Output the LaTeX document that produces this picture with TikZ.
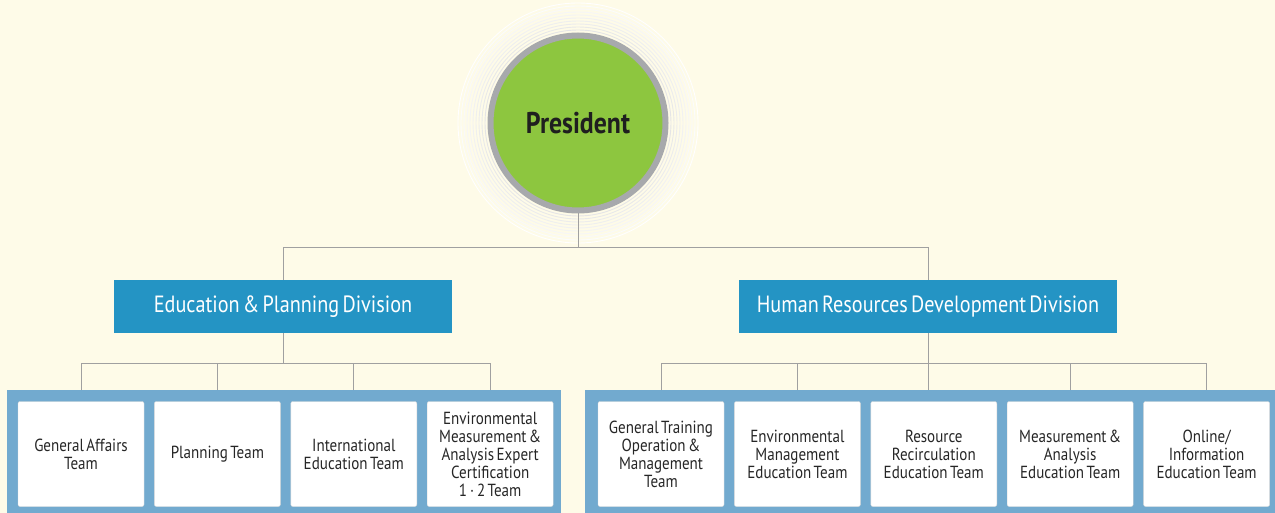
\documentclass[tikz,border=0pt]{standalone}
\usepackage{fontspec}
\setmainfont{PT Sans}[FakeStretch=0.86, WordSpace=0.6]
\usetikzlibrary{positioning}
\definecolor{cream}{HTML}{FEFBE8}
\definecolor{presgreen}{HTML}{8DC63F}
\definecolor{ringgray}{HTML}{A7A9AC}
\definecolor{divblue}{HTML}{2494C4}
\definecolor{panelblue}{HTML}{72AACF}
\definecolor{linegray}{HTML}{A0A0A0}

\begin{document}
\begin{tikzpicture}[x=1pt, y=-1pt,
      president/.style={circle, fill=presgreen, draw=ringgray, line width=6pt, minimum size=175pt, font=\bfseries\fontsize{30}{32}\selectfont, text=black!88},
      division/.style={fill=divblue, text=white, minimum height=53pt, font=\fontsize{23.5}{26}\selectfont},
      panel/.style={fill=panelblue, anchor=north west, inner sep=0pt},
      team/.style={fill=white, draw=black!15, rounded corners=2pt, align=center, minimum width=126pt, minimum height=105pt, inner sep=1pt, font=\fontsize{17.5}{18}\selectfont, text=black!85},
      link/.style={draw=linegray, line width=0.9pt}
    ]
    \useasboundingbox (0,0) rectangle (1275,513);
    \fill[cream] (0,0) rectangle (1275,513);

    % rings round the president
    \foreach \r/\c in {93/30,96/26,99/22,102/19,105/16,108/13,111/10,114/7,117/4,120/0}
      \draw[draw=ringgray!\c!white, line width=0.9pt] (578,123) circle (\r);
    \node[president] (pres) at (578,123) {President};

    % divisions
    \node[division, minimum width=338pt] (epd) at (283,306.5) {Education \& Planning Division};
    \node[division, minimum width=378pt] (hrd) at (928,306.5) {Human Resources Development Division};

    % panels
    \node[panel, minimum width=554pt, minimum height=123pt] (lpanel) at (7,390) {};
    \node[panel, minimum width=690pt, minimum height=123pt] (rpanel) at (585,390) {};

    % teams
    \node[team] (t1) at (81,454) {General Affairs\\Team};
    \node[team, right=10pt of t1] (t2) {Planning Team};
    \node[team, right=10pt of t2] (t3) {International\\Education Team};
    \node[team, right=10pt of t3] (t4) {Environmental\\Measurement \&\\Analysis Expert\\Certification\\1\,·\,2 Team};

    \node[team] (u1) at (661,454) {General Training\\Operation \&\\Management\\Team};
    \node[team, right=10pt of u1] (u2) {Environmental\\Management\\Education Team};
    \node[team, right=10pt of u2] (u3) {Resource\\Recirculation\\Education Team};
    \node[team, right=10pt of u3] (u4) {Measurement \&\\Analysis\\Education Team};
    \node[team, right=10pt of u4] (u5) {Online/\\Information\\Education Team};

    % connectors
    \draw[link] (pres.south) -- ++(0,34) coordinate (split);
    \draw[link] (epd.north) |- (split) -| (hrd.north);

    \draw[link] (epd.south) -- ++(0,30) coordinate (lbar);
    \draw[link] (t1.north |- lpanel.north) |- (lbar) -| (t4.north |- lpanel.north);
    \draw[link] (t2.north |- lpanel.north) -- (t2.north |- lbar);
    \draw[link] (t3.north |- lpanel.north) -- (t3.north |- lbar);

    \draw[link] (hrd.south) -- (hrd.south |- rpanel.north);
    \coordinate (rbar) at (hrd.south |- lbar);
    \draw[link] (u1.north |- rpanel.north) |- (rbar) -| (u5.north |- rpanel.north);
    \draw[link] (u2.north |- rpanel.north) -- (u2.north |- rbar);
    \draw[link] (u4.north |- rpanel.north) -- (u4.north |- rbar);
  \end{tikzpicture}
\end{document}
